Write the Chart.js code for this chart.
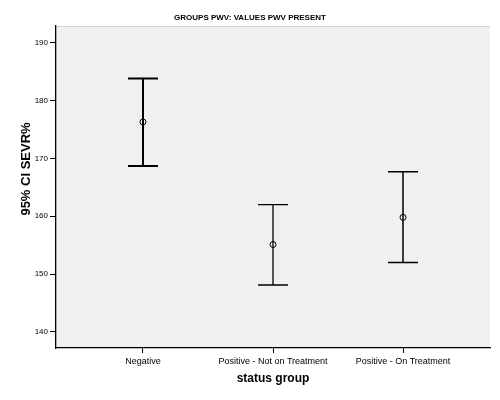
<!DOCTYPE html>
<html>
<head>
<meta charset="utf-8">
<script src="https://cdn.jsdelivr.net/npm/chart.js@4"></script>
<style>
  html, body { margin: 0; padding: 0; background: #fff; }
  #wrap { width: 500px; height: 400px; }
</style>
</head>
<body>
<div id="wrap"><canvas id="ciChart" width="500" height="400"></canvas></div>
<script>
const groups = ["Negative", "Positive - Not on Treatment", "Positive - On Treatment"];
const means = [176.3, 155.1, 159.8];
const lower = [168.7, 148.1, 152.0];
const upper = [183.8, 162.0, 167.7];
const yTicks = [140, 150, 160, 170, 180, 190];

const FONT = "'Liberation Sans', Arial, sans-serif";

// grey plot background + error bars drawn through the scales
const errorBars = {
  id: 'errorBars',
  beforeDraw(chart) {
    const { ctx, chartArea: a } = chart;
    ctx.save();
    ctx.fillStyle = '#f0f0f0';
    ctx.fillRect(a.left, a.top, a.right - a.left, a.bottom - a.top);
    ctx.strokeStyle = '#d4d4d4';
    ctx.lineWidth = 1;
    ctx.beginPath();
    ctx.moveTo(a.left, a.top + 0.5);
    ctx.lineTo(a.right, a.top + 0.5);
    ctx.stroke();
    ctx.restore();
  },
  beforeDatasetsDraw(chart) {
    const { ctx, scales: { x, y } } = chart;
    const widths = [2, 1.3, 1.5];
    ctx.save();
    ctx.strokeStyle = '#000';
    means.forEach((m, i) => {
      const px = Math.round(x.getPixelForValue(i + 1));
      const top = y.getPixelForValue(upper[i]);
      const bot = y.getPixelForValue(lower[i]);
      ctx.lineWidth = widths[i];
      ctx.beginPath();
      ctx.moveTo(px, top);
      ctx.lineTo(px, bot);
      ctx.moveTo(px - 15, top);
      ctx.lineTo(px + 15, top);
      ctx.moveTo(px - 15, bot);
      ctx.lineTo(px + 15, bot);
      ctx.stroke();
    });
    ctx.restore();
  },
  afterDraw(chart) {
    const { ctx, scales: { y } } = chart;
    ctx.save();
    ctx.translate(26, (y.top + y.bottom) / 2 - 18);
    ctx.rotate(-Math.PI / 2);
    ctx.font = "bold 13px " + FONT;
    ctx.fillStyle = '#000';
    ctx.textAlign = 'center';
    ctx.textBaseline = 'middle';
    ctx.fillText("95% CI SEVR%", 0, 0);
    ctx.restore();
  }
};

new Chart(document.getElementById("ciChart"), {
  type: 'scatter',
  data: {
    datasets: [{
      label: 'Mean',
      data: means.map((v, i) => ({ x: i + 1, y: v })),
      pointStyle: 'circle',
      pointRadius: 3,
      pointBorderWidth: 1,
      pointBorderColor: '#000',
      pointBackgroundColor: 'rgba(0,0,0,0)'
    }]
  },
  options: {
    responsive: false,
    animation: false,
    layout: { padding: { left: 10, right: 10, top: 0, bottom: 0 } },
    plugins: {
      legend: { display: false },
      tooltip: { enabled: false },
      title: {
        display: true,
        text: "GROUPS PWV: VALUES PWV PRESENT",
        color: '#000',
        font: { family: FONT, size: 8, weight: 'bold' },
        padding: { top: 13, bottom: 3.4 }
      }
    },
    scales: {
      x: {
        type: 'linear',
        min: 0.331,
        max: 3.669,
        afterBuildTicks: s => { s.ticks = groups.map((g, i) => ({ value: i + 1 })); },
        afterFit: s => { s.height = 52; },
        grid: { drawOnChartArea: false, drawTicks: true, tickLength: 5, color: '#000' },
        border: { display: true, color: '#000', width: 1.3 },
        ticks: {
          color: '#000',
          font: { family: FONT, size: 9 },
          padding: 3,
          maxRotation: 0,
          autoSkip: false,
          callback: v => groups[v - 1]
        },
        title: {
          display: true,
          text: "status group",
          color: '#000',
          font: { family: FONT, size: 12, weight: 'bold' },
          padding: { top: 0, bottom: 14 }
        }
      },
      y: {
        min: 137.2,
        max: 192.9,
        afterBuildTicks: s => { s.ticks = yTicks.map(v => ({ value: v })); },
        afterFit: s => { s.width = 46; },
        grid: { drawOnChartArea: false, drawTicks: true, tickLength: 6, color: '#000' },
        border: { display: true, color: '#000', width: 1.3 },
        ticks: {
          color: '#000',
          font: { family: FONT, size: 8 },
          padding: 2
        }
      }
    }
  },
  plugins: [errorBars]
});
</script>
</body>
</html>
